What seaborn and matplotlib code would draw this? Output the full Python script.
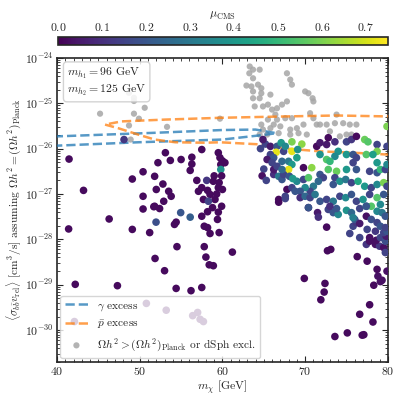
import numpy as np
import pandas as pd
import matplotlib
matplotlib.use("Agg")
import matplotlib.pyplot as plt
import matplotlib.colors as mcolors
from matplotlib.ticker import MultipleLocator, FixedLocator, LogLocator, NullFormatter
import seaborn as sns

# ---- data ----
# grey points: relic density too large or dSph excluded  (mass [GeV], log10 <sigma v>)
grey_mass = [45.2, 48.7, 49.3, 49.3, 50.6, 49.3, 49.9, 48.7, 53.3, 59.7, 48.9,
             63.3, 63.7, 63.25, 64.5, 63.7, 62.9, 63.5, 64.3, 64.7, 63.7, 64.7,
             63.7, 64.5, 65.8, 63.9, 64.9, 65.5, 66.0, 66.6, 67.2, 66.4, 65.5,
             66.6, 67.6, 68.4, 67.8, 67.8, 68.2, 68.4, 70.0, 70.4, 70.9, 71.0,
             70.6, 71.0, 71.4, 69.8, 69.0, 68.2, 67.0, 66.2, 65.8, 64.7, 64.9,
             65.4, 64.5, 66.8, 68.2, 69.2, 70.2, 71.8, 72.6, 73.6, 74.6, 75.4,
             76.2, 75.0, 75.6, 74.2, 73.0, 73.8]
grey_logsv = [-25.23, -24.77, -24.88, -24.95, -25.10, -25.23, -25.34, -25.49, -25.52, -25.34, -25.80,
              -24.19, -24.26, -24.34, -24.26, -24.45, -24.61, -24.63, -24.59, -24.67, -24.74, -24.78,
              -24.89, -24.89, -24.81, -25.07, -25.07, -25.03, -25.14, -25.11, -25.03, -25.25, -25.36,
              -25.36, -25.33, -25.33, -24.96, -24.34, -24.48, -24.59, -24.74, -24.78, -24.89, -24.96,
              -25.22, -25.33, -25.47, -25.47, -25.55, -25.58, -25.51, -25.47, -25.55, -25.47, -25.58,
              -25.69, -25.69, -25.66, -25.69, -25.66, -25.69, -25.47, -25.47, -25.44, -25.44, -25.47,
              -25.47, -25.69, -25.69, -25.73, -25.62, -25.25]

# coloured points: viable models (mass, log10 <sigma v>, mu_CMS)
pt_mass = [41.45, 43.2, 41.4, 46.3, 49.1, 51.2, 50.4, 51.7, 52.4, 48.1,
           53.1, 53.7, 52.2, 55.0, 56.3, 56.3, 56.1, 57.5, 59.5, 59.7, 60.0, 59.8,
           50.4, 49.1, 51.8, 52.8, 53.5, 52.0, 50.4, 53.8, 52.9, 51.8,
           56.9, 57.5, 57.1, 58.1, 58.9, 59.5, 58.5, 57.7, 59.1, 58.3,
           59.8, 60.3, 58.2, 59.0, 59.9, 59.6, 60.0, 59.3,
           51.97, 54.4, 54.95, 56.1, 54.2, 57.5, 57.8, 58.2, 58.5, 59.6, 59.4, 58.2, 59.9, 58.8, 59.5,
           54.5, 57.8, 51.85, 58.0, 58.4, 58.9, 53.0, 61.2,
           42.2, 47.3, 54.4, 56.2, 57.5,
           50.8, 53.2, 56.4, 57.0, 57.3, 57.7, 42.1,
           66.8, 69.9, 72.4, 72.3, 71.9, 73.6, 75.1, 76.9, 77.1, 76.6, 77.8, 78.2, 78.3, 78.8, 79.1,
           79.3, 78.7, 79.9, 77.5, 76.3, 72.7, 73.1, 72.6, 70.4, 71.5, 71.6,
           78.5, 79.0, 79.5, 79.7, 77.4, 77.8, 76.6, 75.4, 77.5, 78.5, 77.8, 78.6, 79.1, 79.7, 79.8,
           79.5, 79.9,
           75.8, 76.2, 76.0, 76.6, 77.4, 78.0, 78.7, 79.1, 79.7,
           75.0, 75.6, 75.8, 76.6, 77.4, 78.7, 79.3, 79.7, 72.8, 73.4, 74.0, 73.8, 78.0,
           65.2, 65.8, 66.6, 66.5, 67.1, 68.4, 69.6, 68.4, 67.4, 67.6, 69.1,
           65.8, 66.2, 65.4, 66.0, 67.2, 68.0, 68.4, 69.0, 68.0, 69.8, 70.8, 71.8, 71.4, 71.8,
           72.6, 72.8, 73.6, 75.0, 75.6, 76.2, 77.2, 77.6, 78.7, 78.7, 79.9, 79.9, 77.4, 78.2,
           75.0, 75.8, 76.2, 74.0, 73.6, 72.6, 73.0, 73.8, 72.8, 75.0, 75.8, 76.2, 77.8, 78.7,
           79.1, 79.7, 79.9, 78.7,
           71.8, 72.2, 71.6, 73.6, 74.2, 73.4, 74.9, 75.6, 76.4, 77.2, 78.0, 78.7, 79.5, 79.9,
           71.0, 70.6, 70.0, 69.4, 69.0, 69.8, 70.4, 67.8, 67.6,
           66.2, 66.8, 67.2, 67.4, 66.2, 66.6, 67.2, 68.1, 68.5,
           68.4, 68.8, 69.4, 70.0, 70.6, 71.2, 71.8, 72.6, 73.4, 74.2, 74.9, 75.6, 76.2, 77.0,
           77.8, 78.7, 79.5, 66.8, 67.6, 70.4, 73.0, 77.4, 79.1,
           64.9, 64.6, 65.0, 64.8, 65.3]
pt_logsv = [-26.23, -26.92, -27.77, -27.55, -27.78, -27.85, -27.33, -27.28, -27.32, -25.80,
            -26.09, -26.26, -26.31, -26.24, -26.19, -26.34, -26.48, -26.02, -26.09, -26.20, -26.27, -26.35,
            -26.51, -26.67, -26.61, -26.78, -26.94, -26.90, -27.05, -27.05, -27.16, -27.27,
            -26.70, -26.86, -26.94, -26.70, -26.72, -26.86, -27.01, -27.12, -27.12, -27.16,
            -26.46, -26.31, -26.92, -26.60, -26.60, -26.75, -26.90, -27.00,
            -27.62, -27.62, -27.41, -27.51, -27.67, -27.49, -27.71, -27.74, -27.87, -27.85, -27.56, -27.39, -27.27, -27.30, -27.40,
            -28.16, -28.16, -28.42, -28.39, -28.56, -28.58, -28.69, -28.28,
            -28.99, -29.02, -29.08, -29.13, -29.06,
            -29.41, -29.56, -29.68, -29.61, -29.76, -29.81, -29.81,
            -27.18, -28.86, -28.97, -29.16, -29.33, -30.14, -30.06, -30.11, -30.10, -29.65, -29.44, -29.82, -29.01, -28.81, -28.93,
            -28.90, -28.66, -28.70, -28.48, -28.38, -28.25, -28.22, -27.73, -27.30, -27.41, -27.51,
            -28.11, -28.15, -28.18, -28.29, -28.11, -28.04, -27.96, -27.87, -27.78, -27.82, -27.96, -28.02, -27.96, -28.04, -27.93,
            -27.85, -27.82,
            -27.71, -27.63, -27.56, -27.65, -27.49, -27.56, -27.63, -27.71, -27.74,
            -27.36, -27.41, -27.52, -27.32, -27.27, -27.38, -27.41, -27.49, -27.34, -27.41, -27.45, -27.32, -27.27,
            -25.90, -25.95, -25.95, -26.08, -25.87, -25.85, -25.90, -26.06, -26.06, -25.95, -26.02,
            -26.13, -26.20, -26.24, -26.31, -26.28, -26.28, -26.35, -26.20, -26.46, -26.42, -26.42, -26.13, -25.95, -25.87,
            -25.91, -25.76, -25.85, -25.85, -25.80, -25.73, -25.80, -25.85, -25.91, -26.06, -25.95, -25.51, -26.13, -26.13,
            -26.13, -26.13, -26.20, -26.06, -26.17, -26.24, -26.28, -26.50, -26.46, -26.46, -26.31, -26.46, -26.50, -26.53,
            -26.46, -26.46, -26.35, -26.31,
            -26.57, -26.64, -26.72, -26.64, -26.72, -26.79, -26.68, -26.75, -26.72, -26.83, -26.86, -26.79, -26.75, -26.83,
            -26.83, -26.94, -26.86, -26.94, -26.72, -26.68, -26.64, -26.90, -27.05,
            -26.57, -26.61, -26.68, -26.57, -26.46, -26.39, -26.46, -26.61, -26.66,
            -26.86, -26.94, -27.08, -27.05, -27.08, -27.01, -27.16, -27.12, -27.16, -27.05, -27.08, -27.01, -27.16, -27.12,
            -27.01, -27.08, -27.01, -27.12, -27.10, -27.30, -27.27, -27.27, -27.23,
            -25.80, -26.00, -26.45, -26.60, -26.70]
pt_mu = [0.02, 0.02, 0.02, 0.02, 0.02, 0.02, 0.02, 0.02, 0.02, 0.12,
         0.02, 0.02, 0.02, 0.02, 0.02, 0.02, 0.02, 0.02, 0.02, 0.02, 0.02, 0.02,
         0.02, 0.02, 0.02, 0.02, 0.02, 0.02, 0.02, 0.02, 0.02, 0.02,
         0.02, 0.02, 0.02, 0.12, 0.02, 0.02, 0.02, 0.02, 0.02, 0.15,
         0.38, 0.02, 0.02, 0.02, 0.02, 0.02, 0.02, 0.02,
         0.18, 0.02, 0.20, 0.22, 0.02, 0.02, 0.02, 0.02, 0.02, 0.02, 0.02, 0.02, 0.02, 0.02, 0.02,
         0.02, 0.02, 0.02, 0.02, 0.02, 0.02, 0.02, 0.02,
         0.02, 0.02, 0.02, 0.02, 0.02,
         0.02, 0.02, 0.02, 0.02, 0.02, 0.02, 0.02,
         0.02, 0.02, 0.02, 0.02, 0.02, 0.02, 0.02, 0.02, 0.02, 0.02, 0.02, 0.02, 0.02, 0.03, 0.03,
         0.03, 0.02, 0.03, 0.02, 0.02, 0.02, 0.02, 0.02, 0.04, 0.05, 0.10,
         0.03, 0.12, 0.03, 0.15, 0.12, 0.03, 0.15, 0.15, 0.15, 0.12, 0.03, 0.03, 0.15, 0.18, 0.05,
         0.15, 0.20,
         0.15, 0.12, 0.20, 0.05, 0.03, 0.18, 0.15, 0.20, 0.15,
         0.38, 0.25, 0.32, 0.15, 0.30, 0.35, 0.30, 0.20, 0.15, 0.20, 0.35, 0.20, 0.55,
         0.15, 0.05, 0.20, 0.72, 0.40, 0.60, 0.62, 0.72, 0.15, 0.35, 0.38,
         0.15, 0.20, 0.05, 0.15, 0.25, 0.30, 0.40, 0.42, 0.72, 0.02, 0.62, 0.38, 0.02, 0.05,
         0.05, 0.02, 0.10, 0.15, 0.12, 0.02, 0.58, 0.55, 0.15, 0.60, 0.15, 0.60, 0.55, 0.42,
         0.40, 0.20, 0.15, 0.38, 0.35, 0.55, 0.50, 0.58, 0.55, 0.40, 0.15, 0.20, 0.15, 0.20,
         0.50, 0.15, 0.35, 0.40,
         0.20, 0.15, 0.25, 0.15, 0.38, 0.20, 0.30, 0.15, 0.45, 0.40, 0.15, 0.35, 0.60, 0.15,
         0.30, 0.15, 0.35, 0.20, 0.35, 0.15, 0.55, 0.02, 0.15,
         0.10, 0.30, 0.20, 0.15, 0.05, 0.15, 0.25, 0.20, 0.40,
         0.15, 0.20, 0.10, 0.25, 0.15, 0.30, 0.20, 0.15, 0.30, 0.15, 0.35, 0.20, 0.15, 0.38,
         0.15, 0.55, 0.20, 0.02, 0.15, 0.20, 0.10, 0.20, 0.35,
         0.05, 0.15, 0.15, 0.03, 0.15]

# gamma-ray excess contour (upper branch then lower branch back)
gam_mass = [38.0, 40.0, 46.0, 52.0, 60.0, 64.0, 66.5, 64.9, 60.0, 49.8, 40.6, 38.0]
gam_logsv = [-25.74, -25.73, -25.69, -25.65, -25.59, -25.58, -25.66, -25.70, -25.80, -25.86, -25.93, -25.95]
# antiproton excess contour
pbar_mass = [81.0, 79.9, 73.8, 67.8, 59.9, 53.1, 47.8, 45.8, 47.4, 49.8, 51.8, 54.3,
             57.9, 59.7, 64.9, 67.8, 71.8, 75.8, 79.9, 81.0]
pbar_logsv = [-25.29, -25.29, -25.27, -25.29, -25.32, -25.36, -25.40, -25.47, -25.55, -25.69, -25.80, -25.86,
              -25.87, -25.86, -25.91, -26.00, -26.06, -26.09, -26.13, -26.14]

y_ticks = [1e-30, 1e-29, 1e-28, 1e-27, 1e-26, 1e-25, 1e-24]

grey = pd.DataFrame({"m": grey_mass, "sv": np.power(10.0, grey_logsv)})
pts = pd.DataFrame({"m": pt_mass, "sv": np.power(10.0, pt_logsv), "mu": pt_mu})
gam = pd.DataFrame({"m": gam_mass, "sv": np.power(10.0, gam_logsv)})
pbar = pd.DataFrame({"m": pbar_mass, "sv": np.power(10.0, pbar_logsv)})

# ---- style ----
sns.set_style("ticks")
plt.rcParams["font.family"] = "serif"
plt.rcParams["font.serif"] = ["cmr10", "DejaVu Serif"]
plt.rcParams["mathtext.fontset"] = "cm"
plt.rcParams["axes.formatter.use_mathtext"] = True
plt.rcParams["axes.unicode_minus"] = False
plt.rcParams["font.size"] = 9

fig = plt.figure(figsize=(3.99, 3.99), dpi=100)
ax = fig.add_axes([0.143, 0.093, 0.829, 0.762])
cax = fig.add_axes([0.145, 0.887, 0.827, 0.021])

norm = mcolors.Normalize(0, 0.75)

sns.scatterplot(data=grey, x="m", y="sv", color="#a6a6a6", alpha=0.85, s=20,
                edgecolor="none", ax=ax, zorder=2,
                label=r"$\Omega h^2 > (\Omega h^2)_{\rm Planck}$ or dSph excl.")
sns.lineplot(data=gam, x="m", y="sv", sort=False, estimator=None, color="#1f77b4",
             alpha=0.75, lw=1.8, ls="--", ax=ax, zorder=3, label=r"$\gamma$ excess")
sns.lineplot(data=pbar, x="m", y="sv", sort=False, estimator=None, color="#ff7f0e",
             alpha=0.75, lw=1.8, ls="--", ax=ax, zorder=3, label=r"$\bar{p}$ excess")
sns.scatterplot(data=pts, x="m", y="sv", hue="mu", palette="viridis", hue_norm=norm,
                s=30, edgecolor="none", legend=False, ax=ax, zorder=4)

ax.set_yscale("log")
ax.set_xlim(40, 80)
ax.set_ylim(2e-31, 1e-24)
ax.xaxis.set_major_locator(MultipleLocator(10))
ax.xaxis.set_minor_locator(MultipleLocator(1))
ax.yaxis.set_major_locator(FixedLocator(y_ticks))
ax.yaxis.set_minor_locator(LogLocator(base=10, subs=np.arange(2, 10), numticks=20))
ax.yaxis.set_minor_formatter(NullFormatter())
ax.tick_params(which="both", direction="in", top=True, right=True, labelsize=8.5, pad=2.5)
ax.tick_params(which="major", length=4)
ax.tick_params(which="minor", length=2)
for sp in ax.spines.values():
    sp.set_linewidth(1.2)

ax.set_xlabel(r"$m_\chi$ [GeV]", fontsize=8.5, labelpad=1)
ax.set_ylabel(r"$\langle\sigma_{b\bar{b}}v_{\rm rel}\rangle$ [cm$^3$/s] assuming $\Omega h^2 = (\Omega h^2)_{\rm Planck}$",
              fontsize=8.2, labelpad=1)

ax.text(0.03, 0.975, "$m_{h_1} = 96$ GeV\n$m_{h_2} = 125$ GeV", transform=ax.transAxes,
        va="top", ha="left", fontsize=8.5, zorder=6,
        bbox=dict(boxstyle="round,pad=0.3", fc="white", ec="#cccccc", alpha=0.85))

h, l = ax.get_legend_handles_labels()
order = [l.index(r"$\gamma$ excess"), l.index(r"$\bar{p}$ excess"), 0]
leg = ax.legend([h[i] for i in order], [l[i] for i in order], loc="lower left",
                fontsize=8.2, framealpha=0.8, edgecolor="#cccccc", handlelength=2.0,
                borderaxespad=0.3)
leg.set_zorder(6)

sm = plt.cm.ScalarMappable(norm=norm, cmap="viridis")
cb = fig.colorbar(sm, cax=cax, orientation="horizontal")
cb.set_ticks(np.arange(0, 0.71, 0.1))
cb.ax.xaxis.set_minor_locator(MultipleLocator(0.02))
cb.ax.xaxis.set_ticks_position("top")
cb.ax.xaxis.set_label_position("top")
cb.ax.tick_params(which="both", direction="in", labelsize=8.5, pad=2.5)
cb.ax.tick_params(which="major", length=4)
cb.ax.tick_params(which="minor", length=2)
cb.set_label(r"$\mu_{\rm CMS}$", fontsize=8.5, labelpad=2)
cb.outline.set_linewidth(1.2)

fig.savefig("out.png", dpi=100)
